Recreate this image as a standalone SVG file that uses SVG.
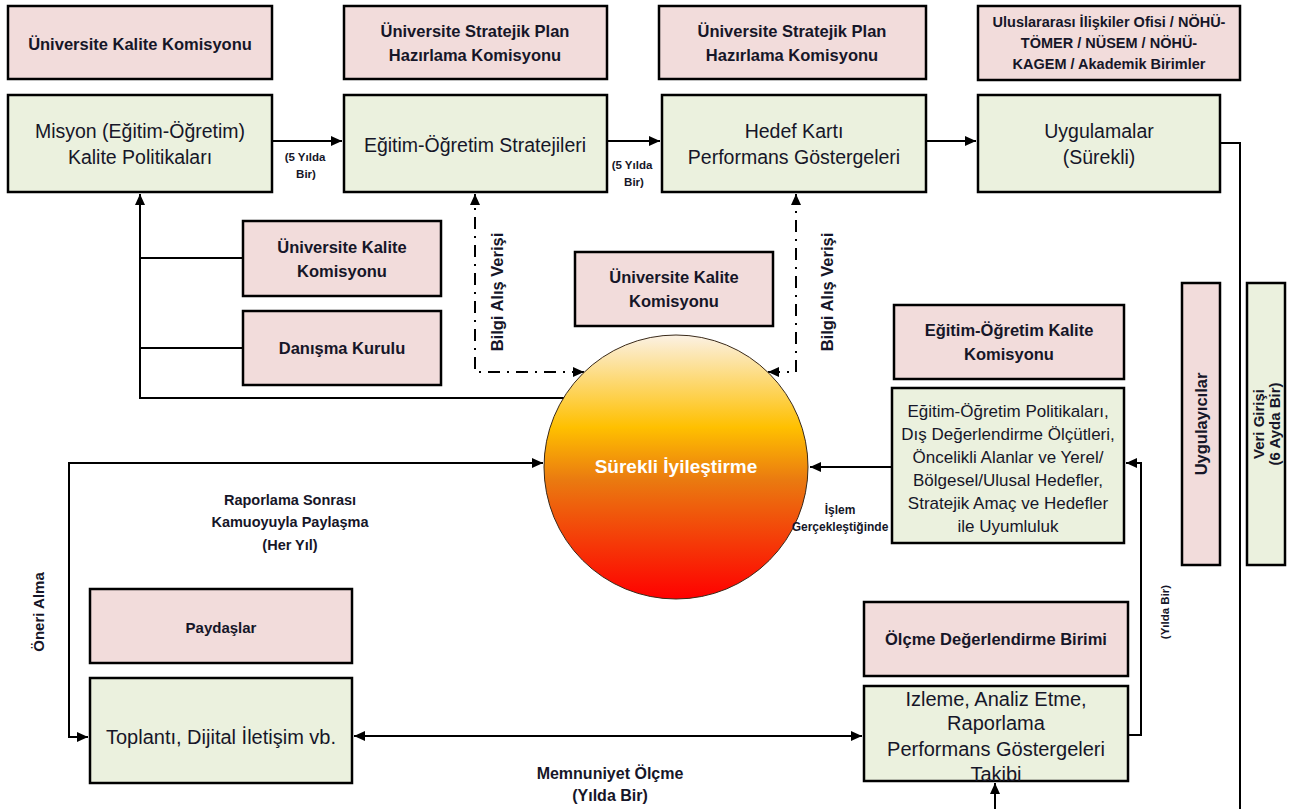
<svg xmlns="http://www.w3.org/2000/svg" width="1296" height="809" viewBox="0 0 1296 809">
<style>
.pink{fill:#f2dcdb;stroke:#000;stroke-width:2.5}
.green{fill:#ebf1de;stroke:#000;stroke-width:2.5}
text{font-family:"Liberation Sans",Arial,sans-serif;fill:#161628;text-anchor:middle}
.n{font-size:19.5px}
.b{font-size:16.5px;font-weight:bold}
.s{font-size:11.5px;font-weight:bold}
.c{fill:none;stroke:#000;stroke-width:2}
.dd{fill:none;stroke:#000;stroke-width:2;stroke-dasharray:12 7 2 7}
</style>
<defs>
<marker id="ar" markerUnits="userSpaceOnUse" markerWidth="11" markerHeight="10" refX="11" refY="5" orient="auto-start-reverse"><path d="M0,0 L11,5 L0,10 z" fill="#000"/></marker>
<linearGradient id="gr" x1="0" y1="0" x2="0" y2="1">
<stop offset="0" stop-color="#fbf1e4"/>
<stop offset="0.35" stop-color="#ffc000"/>
<stop offset="0.55" stop-color="#ea7a10"/>
<stop offset="1" stop-color="#ff0000"/>
</linearGradient>
</defs>
<rect width="1296" height="809" fill="#fff"/>
<g id="connectors">
<path class="c" d="M272 141 H342" marker-end="url(#ar)"/>
<path class="c" d="M607 141 H660" marker-end="url(#ar)"/>
<path class="c" d="M926 141 H976" marker-end="url(#ar)"/>
<path class="c" d="M1220 143 H1240 V809"/>
<path class="c" d="M564 398 H140 V194" marker-end="url(#ar)"/>
<path class="c" d="M140 258 H243 M140 348 H243"/>
<path class="dd" d="M584 372 H475 V194" marker-start="url(#ar)" marker-end="url(#ar)"/>
<path class="dd" d="M768 372 H796 V194" marker-start="url(#ar)" marker-end="url(#ar)"/>
<path class="c" d="M892 467 H810" marker-end="url(#ar)"/>
<path class="c" d="M1128 735 H1141 V463 H1126" marker-end="url(#ar)"/>
<path class="c" d="M543 463 H69 V737 H88" marker-start="url(#ar)" marker-end="url(#ar)"/>
<path class="c" d="M354 736 H862" marker-start="url(#ar)" marker-end="url(#ar)"/>
<path class="c" d="M995 809 V783" marker-end="url(#ar)"/>
</g>
<g id="n-ukk-top"><rect class="pink" x="8" y="6" width="264" height="73"/><text class="b" x="140" y="50">Üniversite Kalite Komisyonu</text></g>
<g id="n-spk1"><rect class="pink" x="344" y="6" width="263" height="73"/><text class="b" x="475" y="37">Üniversite Stratejik Plan</text><text class="b" x="475" y="61">Hazırlama Komisyonu</text></g>
<g id="n-spk2"><rect class="pink" x="659" y="6" width="267" height="73"/><text class="b" x="792" y="37">Üniversite Stratejik Plan</text><text class="b" x="792" y="61">Hazırlama Komisyonu</text></g>
<g id="n-uio"><rect class="pink" x="978" y="6" width="262" height="74"/><text class="b" x="1109" y="27" style="font-size:14.5px">Uluslararası İlişkiler Ofisi / NÖHÜ-</text><text class="b" x="1109" y="48" style="font-size:14.5px">TÖMER / NÜSEM / NÖHÜ-</text><text class="b" x="1109" y="69" style="font-size:14.5px">KAGEM / Akademik Birimler</text></g>
<g id="n-misyon"><rect class="green" x="8" y="95" width="264" height="97"/><text class="n" x="140" y="138">Misyon (Eğitim-Öğretim)</text><text class="n" x="140" y="164">Kalite Politikaları</text></g>
<g id="n-strat"><rect class="green" x="344" y="95" width="263" height="97"/><text class="n" x="475" y="152">Eğitim-Öğretim Stratejileri</text></g>
<g id="n-hedef"><rect class="green" x="662" y="95" width="264" height="97"/><text class="n" x="794" y="138">Hedef Kartı</text><text class="n" x="794" y="164">Performans Göstergeleri</text></g>
<g id="n-uyg"><rect class="green" x="978" y="95" width="242" height="97"/><text class="n" x="1099" y="138">Uygulamalar</text><text class="n" x="1099" y="164">(Sürekli)</text></g>
<g id="l-5y1"><text class="s" x="305" y="161">(5 Yılda</text><text class="s" x="306" y="178">Bir)</text></g>
<g id="l-5y2"><text class="s" x="632" y="169">(5 Yılda</text><text class="s" x="634" y="186">Bir)</text></g>
<g id="n-ukk-left"><rect class="pink" x="243" y="221" width="198" height="75"/><text class="b" x="342" y="253">Üniversite Kalite</text><text class="b" x="342" y="277">Komisyonu</text></g>
<g id="n-danisma"><rect class="pink" x="243" y="311" width="198" height="74"/><text class="b" x="342" y="354">Danışma Kurulu</text></g>
<g id="n-ukk-mid"><rect class="pink" x="575" y="252" width="198" height="74"/><text class="b" x="674" y="283">Üniversite Kalite</text><text class="b" x="674" y="307">Komisyonu</text></g>
<text class="b" transform="translate(503 292) rotate(-90)">Bilgi Alış Verişi</text>
<text class="b" transform="translate(833 292) rotate(-90)">Bilgi Alış Verişi</text>
<g id="n-surekli"><circle cx="676" cy="467" r="132" fill="url(#gr)" stroke="#3a2a1a" stroke-width="1"/><text x="676" y="473" style="font-size:19px;font-weight:bold;fill:#fff">Sürekli İyileştirme</text></g>
<g id="n-eokk"><rect class="pink" x="894" y="305" width="230" height="74"/><text class="b" x="1009" y="336">Eğitim-Öğretim Kalite</text><text class="b" x="1009" y="360">Komisyonu</text></g>
<g id="n-politika"><rect class="green" x="892" y="388" width="232" height="155"/>
<text class="n" x="1008" y="417" style="font-size:17px">Eğitim-Öğretim Politikaları,</text>
<text class="n" x="1008" y="440" style="font-size:17px">Dış Değerlendirme Ölçütleri,</text>
<text class="n" x="1008" y="463" style="font-size:17px">Öncelikli Alanlar ve Yerel/</text>
<text class="n" x="1008" y="486" style="font-size:17px">Bölgesel/Ulusal Hedefler,</text>
<text class="n" x="1008" y="509" style="font-size:17px">Stratejik Amaç ve Hedefler</text>
<text class="n" x="1008" y="532" style="font-size:17px">ile Uyumluluk</text></g>
<g id="l-islem"><text class="s" x="840" y="514" style="font-size:12px">İşlem</text><text class="s" x="840" y="531" style="font-size:12px">Gerçekleştiğinde</text></g>
<g id="n-uygulayicilar"><rect class="pink" x="1182" y="283" width="38" height="282"/><text class="b" transform="translate(1207 424) rotate(-90)">Uygulayıcılar</text></g>
<g id="n-veri"><rect class="green" x="1247" y="283" width="38" height="282"/><text class="b" transform="translate(1264 424) rotate(-90)" style="font-size:15px">Veri Girişi</text><text class="b" transform="translate(1280 424) rotate(-90)" style="font-size:15px">(6 Ayda Bir)</text></g>
<text class="b" transform="translate(44 612) rotate(-90)" style="font-size:15px">Öneri Alma</text>
<g id="l-rapor"><text class="b" x="290" y="505" style="font-size:14.5px">Raporlama Sonrası</text><text class="b" x="290" y="527" style="font-size:14.5px">Kamuoyuyla Paylaşma</text><text class="b" x="290" y="550" style="font-size:14.5px">(Her Yıl)</text></g>
<g id="n-paydas"><rect class="pink" x="90" y="589" width="262" height="74"/><text class="b" x="221" y="633" style="font-size:15px">Paydaşlar</text></g>
<g id="n-toplanti"><rect class="green" x="90" y="678" width="262" height="105"/><text class="n" x="221" y="744" style="font-size:20px">Toplantı, Dijital İletişim vb.</text></g>
<g id="n-olcme"><rect class="pink" x="864" y="602" width="264" height="74"/><text class="b" x="996" y="645">Ölçme Değerlendirme Birimi</text></g>
<g id="n-izleme"><rect class="green" x="864" y="686" width="264" height="95"/>
<text class="n" x="996" y="706" style="font-size:20px">Izleme, Analiz Etme,</text>
<text class="n" x="996" y="730" style="font-size:20px">Raporlama</text>
<text class="n" x="996" y="756" style="font-size:20px">Performans Göstergeleri</text>
<text class="n" x="996" y="781" style="font-size:20px">Takibi</text></g>
<text class="s" transform="translate(1169 612) rotate(-90)">(Yılda Bir)</text>
<g id="l-memnun"><text class="b" x="610" y="779" style="font-size:16px">Memnuniyet Ölçme</text><text class="b" x="610" y="801" style="font-size:16px">(Yılda Bir)</text></g>
</svg>
